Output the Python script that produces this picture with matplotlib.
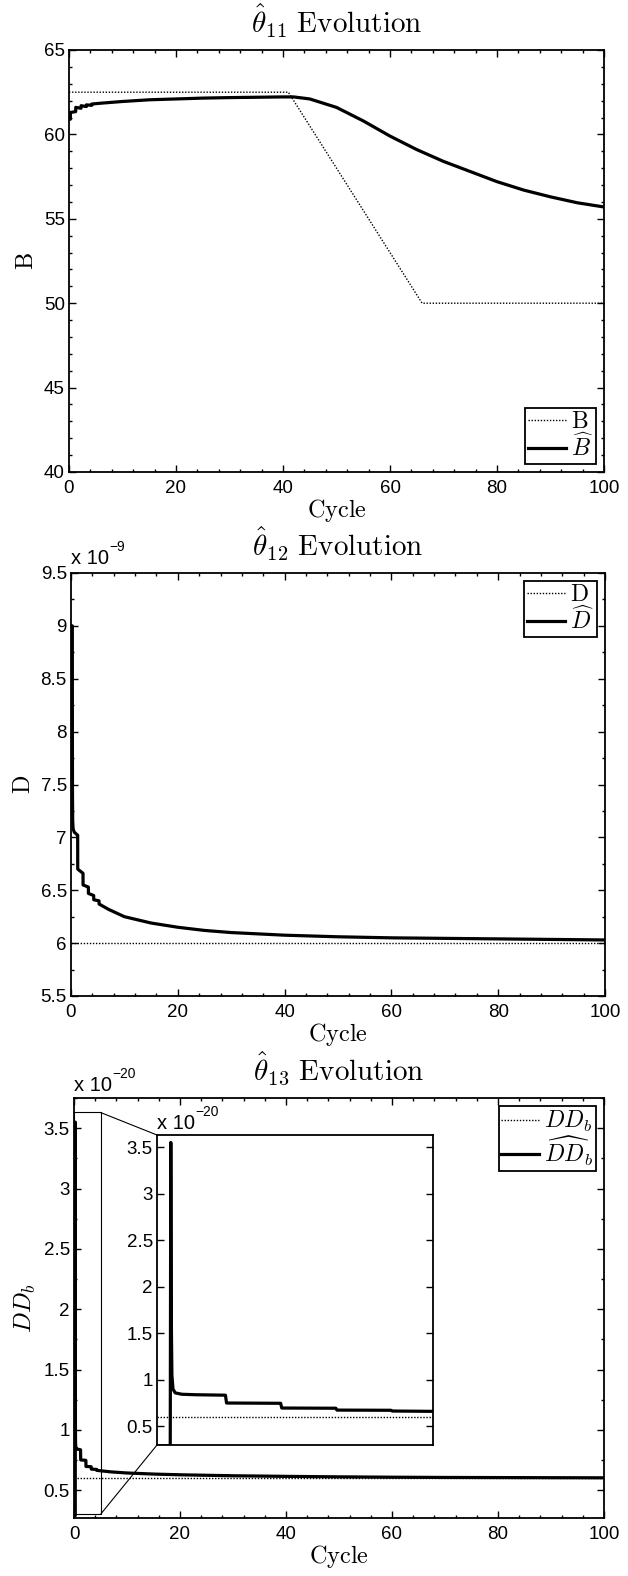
import numpy as np
import matplotlib
matplotlib.use("Agg")
import matplotlib.pyplot as plt
from matplotlib.patches import Rectangle, ConnectionPatch
from matplotlib.ticker import MultipleLocator, FuncFormatter

plt.rcParams['font.family'] = ['Liberation Sans', 'DejaVu Sans']
plt.rcParams['mathtext.fontset'] = 'cm'

# ---------------- data ----------------
# Panel 1: B (true, dotted) and B-hat (estimate)
b_true_x = [0, 41, 66, 100]
b_true = [62.5, 62.5, 50.0, 50.0]
b_hat_x = [0, 0.25, 0.26, 1.25, 1.26, 2.25, 2.26, 3.25, 3.26, 4.25, 4.26, 6, 8, 10,
           15, 20, 25, 30, 35, 40, 42, 45, 50, 55, 60, 65, 70, 75, 80, 85, 90, 95, 100]
b_hat = [60.9, 60.9, 61.3, 61.35, 61.6, 61.55, 61.7, 61.65, 61.75, 61.72, 61.8, 61.85,
         61.9, 61.95, 62.05, 62.1, 62.15, 62.18, 62.2, 62.22, 62.22, 62.1, 61.6, 60.8,
         59.9, 59.1, 58.4, 57.8, 57.2, 56.7, 56.3, 55.95, 55.7]

# Panel 2: D (x 1e-9)
d_true_x = [0, 100]
d_true = [6.0, 6.0]
d_hat_x = [0, 0.25, 0.26, 0.28, 0.32, 0.4, 0.6, 1.25, 1.26, 2.25, 2.26, 3.25, 3.26,
           4.25, 4.26, 5.25, 5.26, 7, 10, 15, 20, 25, 30, 40, 50, 60, 70, 80, 90, 100]
d_hat = [9.0, 9.0, 8.0, 7.4, 7.15, 7.08, 7.05, 7.02, 6.70, 6.66, 6.55, 6.53, 6.47,
         6.45, 6.41, 6.40, 6.37, 6.32, 6.25, 6.19, 6.15, 6.12, 6.10, 6.075, 6.06,
         6.05, 6.045, 6.04, 6.035, 6.03]

# Panel 3: DD_b (x 1e-20)
dd_true_x = [0, 100]
dd_true = [0.6, 0.6]
dd_hat_x = [0, 0.24, 0.25, 0.26, 0.27, 0.29, 0.33, 0.45, 0.7, 1.24, 1.26, 2.24, 2.26,
            3.24, 3.26, 4.24, 4.26, 5.3, 7, 10, 15, 20, 30, 40, 50, 60, 70, 80, 90, 100]
dd_hat = [0.29, 0.29, 3.55, 1.6, 1.05, 0.9, 0.86, 0.845, 0.84, 0.835, 0.751, 0.748,
          0.697, 0.695, 0.675, 0.673, 0.665, 0.66, 0.652, 0.643, 0.634, 0.628, 0.62,
          0.615, 0.611, 0.608, 0.606, 0.605, 0.604, 0.603]

zoom_x = (0, 5)
zoom_y = (0.30, 3.63)

# ---------------- layout ----------------
W, H = 628, 1576
fig = plt.figure(figsize=(W / 100, H / 100), dpi=100)


def ax_at(l, t, r, b):
    return fig.add_axes([l / W, 1 - b / H, (r - l) / W, (b - t) / H])


fmt = FuncFormatter(lambda v, p: "%g" % round(v, 6))


def style(ax, ymaj, ymin, xticks=True):
    ax.tick_params(which='both', direction='in', top=True, right=True,
                   labelsize=13.5, width=1.0)
    ax.tick_params(which='major', length=5)
    ax.tick_params(which='minor', length=2.5)
    ax.tick_params(axis='x', pad=6)
    ax.tick_params(axis='y', pad=3)
    if xticks:
        ax.xaxis.set_major_locator(MultipleLocator(20))
        ax.xaxis.set_minor_locator(MultipleLocator(4))
    ax.yaxis.set_major_locator(MultipleLocator(ymaj))
    ax.yaxis.set_major_formatter(fmt)
    if ymin:
        ax.yaxis.set_minor_locator(MultipleLocator(ymin))
    for s in ax.spines.values():
        s.set_linewidth(1.3)


def exponent(ax, exp, x=0.0, y=1.008, fs=14.5):
    t = ax.text(x, y, "x 10", transform=ax.transAxes, fontsize=fs,
                ha='left', va='bottom')
    ax.annotate(exp, xy=(1.0, 0.72), xycoords=t, fontsize=fs * 0.68,
                ha='left', va='bottom')


def legend(ax, loc):
    leg = ax.legend(loc=loc, frameon=True, fancybox=False, edgecolor='black',
                    framealpha=1, fontsize=17, handlelength=1.6, borderpad=0.12,
                    labelspacing=0.02, handletextpad=0.2, borderaxespad=0.35)
    leg.get_frame().set_linewidth(1.3)
    return leg


title_fs = 21
title_pad = 12
lab_fs = 17.5
LW = 2.3
DOT = dict(color='black', lw=1.0, ls=(0, (1, 1.2)))

# ---- panel 1
ax1 = ax_at(69, 50, 604, 472)
ax1.plot(b_true_x, b_true, label=r"$\mathrm{B}$", **DOT)
ax1.plot(b_hat_x, b_hat, color='black', lw=LW, label=r"$\widehat{B}$")
ax1.set_xlim(0, 100)
ax1.set_ylim(40, 65)
style(ax1, 5, 1)
ax1.set_title(r"$\hat{\theta}_{11}\ \mathrm{Evolution}$", fontsize=title_fs, pad=title_pad)
ax1.set_xlabel(r"$\mathrm{Cycle}$", fontsize=lab_fs, labelpad=0)
ax1.set_ylabel(r"$\mathrm{B}$", fontsize=lab_fs, labelpad=4)
legend(ax1, 'lower right')

# ---- panel 2
ax2 = ax_at(71, 573, 605, 996)
ax2.plot(d_true_x, d_true, label=r"$\mathrm{D}$", **DOT)
ax2.plot(d_hat_x, d_hat, color='black', lw=LW, label=r"$\widehat{D}$")
ax2.set_xlim(0, 100)
ax2.set_ylim(5.5, 9.5)
style(ax2, 0.5, 0.25)
ax2.set_title(r"$\hat{\theta}_{12}\ \mathrm{Evolution}$", fontsize=title_fs, pad=title_pad)
ax2.set_xlabel(r"$\mathrm{Cycle}$", fontsize=lab_fs, labelpad=0)
ax2.set_ylabel(r"$\mathrm{D}$", fontsize=lab_fs, labelpad=4)
exponent(ax2, "\u22129", y=1.012)
legend(ax2, 'upper right')

# ---- panel 3
ax3 = ax_at(74, 1098, 604, 1518)
ax3.plot(dd_true_x, dd_true, label=r"$DD_b$", **DOT)
ax3.plot(dd_hat_x, dd_hat, color='black', lw=LW, label=r"$\widehat{DD}_b$")
ax3.set_xlim(0, 100)
ax3.set_ylim(0.27, 3.75)
style(ax3, 0.5, 0.25)
ax3.set_title(r"$\hat{\theta}_{13}\ \mathrm{Evolution}$", fontsize=title_fs, pad=title_pad + 1)
ax3.set_xlabel(r"$\mathrm{Cycle}$", fontsize=lab_fs, labelpad=0)
ax3.set_ylabel(r"$DD_b$", fontsize=lab_fs, labelpad=4)
exponent(ax3, "\u221220")
legend(ax3, 'upper right')

ax3.add_patch(Rectangle((zoom_x[0], zoom_y[0]), zoom_x[1] - zoom_x[0],
                        zoom_y[1] - zoom_y[0], fill=False, ec='black', lw=0.8,
                        zorder=1))

# inset
axi = ax_at(157, 1135, 433, 1445)
axi.plot(dd_true_x, dd_true, **DOT)
axi.plot(dd_hat_x, dd_hat, color='black', lw=LW)
axi.set_xlim(*zoom_x)
axi.set_ylim(*zoom_y)
style(axi, 0.5, None, xticks=False)
axi.set_xticks([])
axi.tick_params(axis='y', which='minor', left=False, right=False)
exponent(axi, "\u221220")

for ya, yb in ((zoom_y[1], 1), (zoom_y[0], 0)):
    con = ConnectionPatch(xyA=(zoom_x[1], ya), coordsA=ax3.transData,
                          xyB=(0, yb), coordsB=axi.transAxes,
                          color='black', lw=0.8)
    fig.add_artist(con)

fig.savefig("out.png", dpi=100)
